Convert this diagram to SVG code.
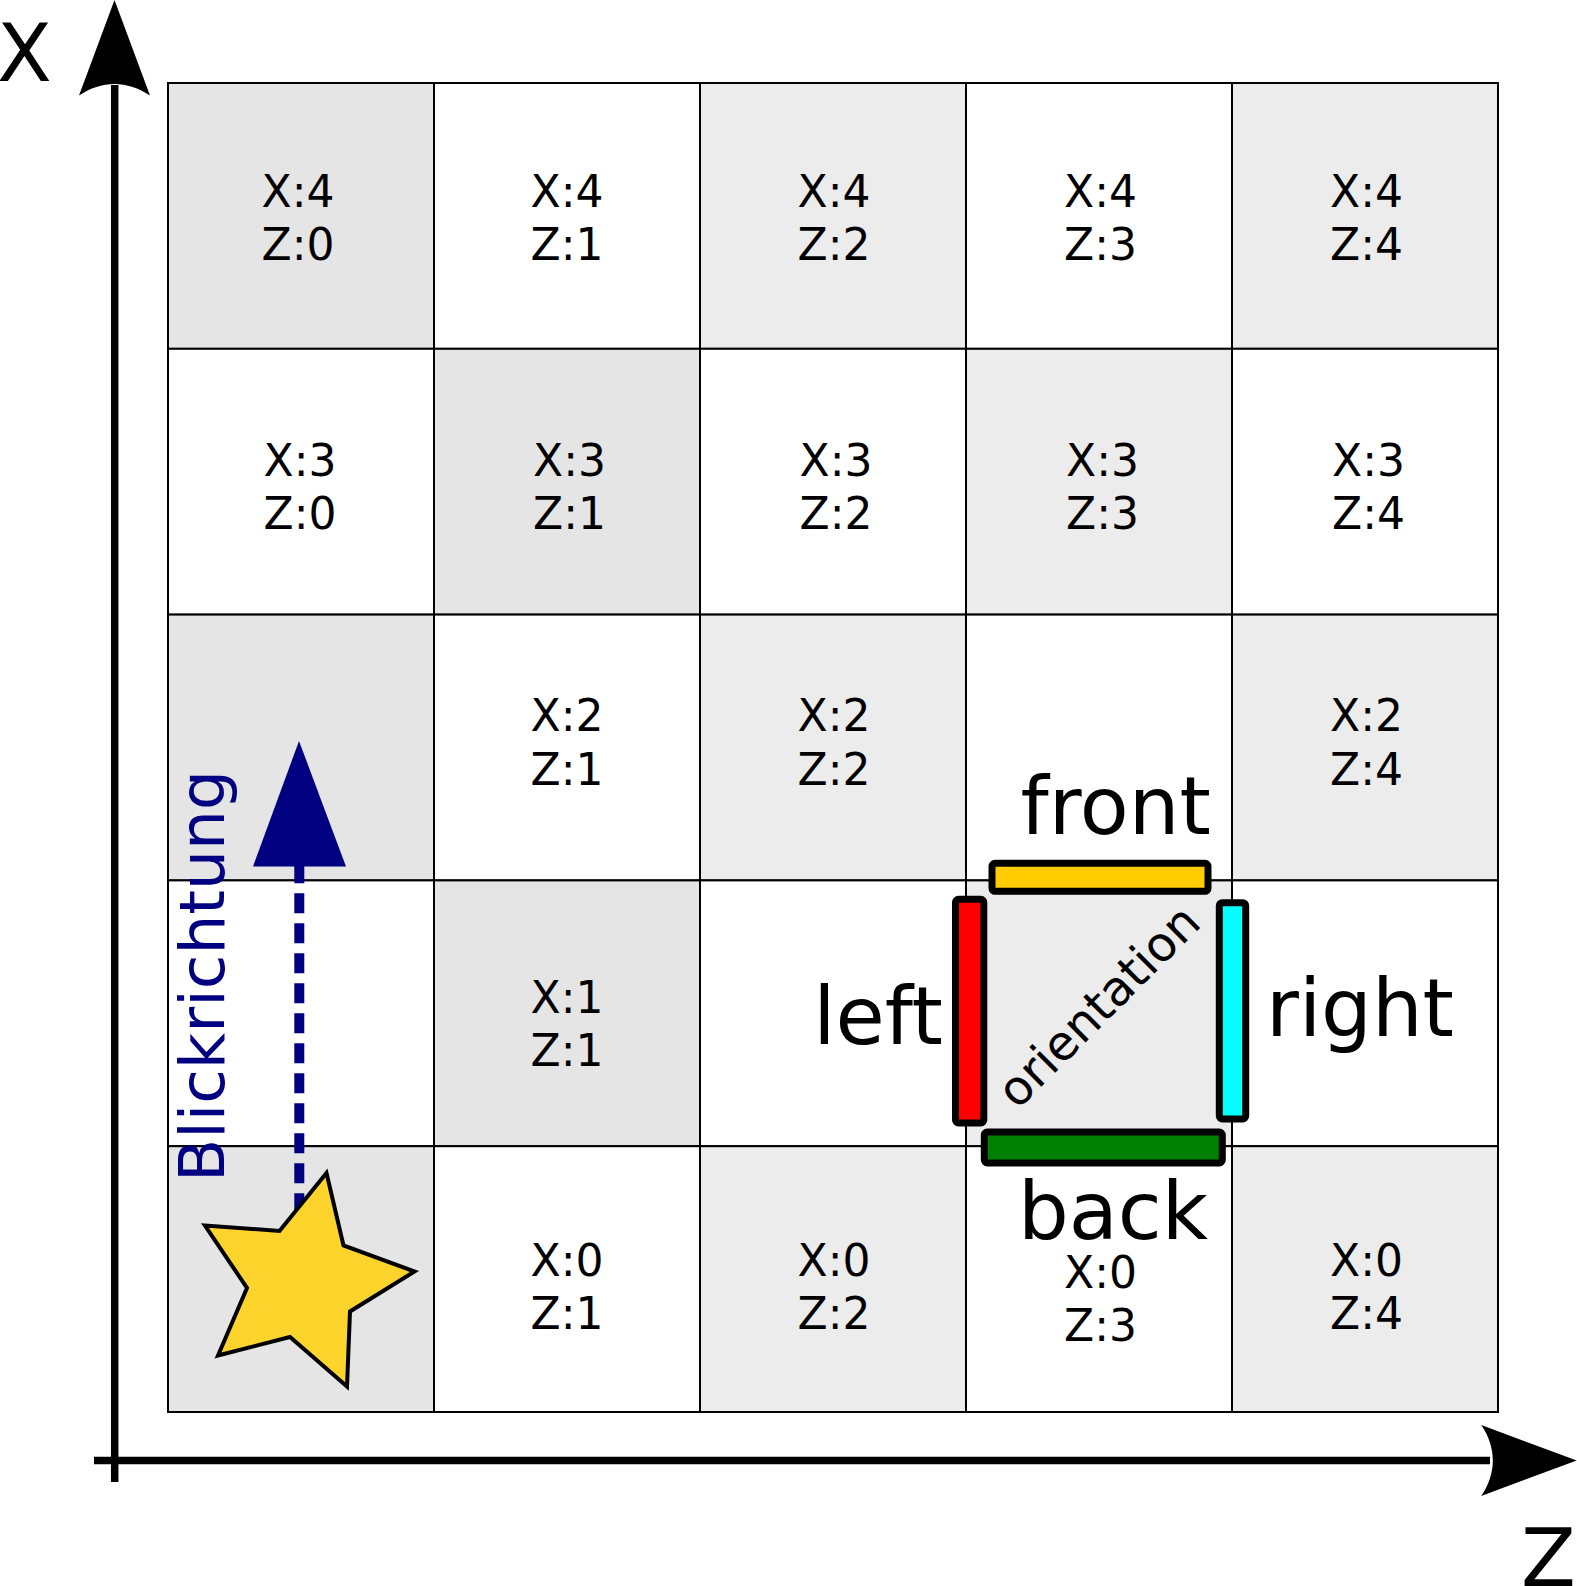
<svg xmlns="http://www.w3.org/2000/svg" xmlns:xlink="http://www.w3.org/1999/xlink" width="1577" height="1586" viewBox="0 0 1577 1586">
<style>
  .cw { fill: #ffffff; stroke: #000000; stroke-width: 2; }
  .cg1 { fill: #e5e5e5; stroke: #000000; stroke-width: 2; }
  .cg2 { fill: #ececec; stroke: #000000; stroke-width: 2; }
  .lbl { font-family: "DejaVu Sans", "Liberation Sans", sans-serif; font-size: 44px; fill: #000000; text-anchor: middle; }
  .big { font-family: "DejaVu Sans", "Liberation Sans", sans-serif; font-size: 80px; fill: #000000; }
  .bar { stroke: #000000; stroke-width: 7; }
  .axis { stroke: #000000; stroke-width: 7.5; fill: none; }
</style>
<defs>
  <path id="ah" d="M0,0 L-95.5,-35.5 C-80,-13 -80,13 -95.5,35.5 Z" fill="#000000"/>
</defs>
<rect x="0" y="0" width="1577" height="1586" fill="#ffffff"/>

<g id="grid">
  <g id="cell-x4-z0"><rect class="cg1" x="168" y="83" width="266" height="265.8"/><text class="lbl"><tspan x="298" y="206.5">X:4</tspan><tspan x="298" y="260">Z:0</tspan></text></g>
  <g id="cell-x4-z1"><rect class="cw" x="434" y="83" width="266" height="265.8"/><text class="lbl"><tspan x="567" y="206.5">X:4</tspan><tspan x="567" y="260">Z:1</tspan></text></g>
  <g id="cell-x4-z2"><rect class="cg2" x="700" y="83" width="266" height="265.8"/><text class="lbl"><tspan x="834" y="206.5">X:4</tspan><tspan x="834" y="260">Z:2</tspan></text></g>
  <g id="cell-x4-z3"><rect class="cw" x="966" y="83" width="266" height="265.8"/><text class="lbl"><tspan x="1100.5" y="206.5">X:4</tspan><tspan x="1100.5" y="260">Z:3</tspan></text></g>
  <g id="cell-x4-z4"><rect class="cg2" x="1232" y="83" width="266" height="265.8"/><text class="lbl"><tspan x="1366.5" y="206.5">X:4</tspan><tspan x="1366.5" y="260">Z:4</tspan></text></g>

  <g id="cell-x3-z0"><rect class="cw" x="168" y="348.8" width="266" height="265.8"/><text class="lbl"><tspan x="300" y="476">X:3</tspan><tspan x="300" y="529">Z:0</tspan></text></g>
  <g id="cell-x3-z1"><rect class="cg1" x="434" y="348.8" width="266" height="265.8"/><text class="lbl"><tspan x="569.5" y="476">X:3</tspan><tspan x="569.5" y="529">Z:1</tspan></text></g>
  <g id="cell-x3-z2"><rect class="cw" x="700" y="348.8" width="266" height="265.8"/><text class="lbl"><tspan x="836" y="476">X:3</tspan><tspan x="836" y="529">Z:2</tspan></text></g>
  <g id="cell-x3-z3"><rect class="cg2" x="966" y="348.8" width="266" height="265.8"/><text class="lbl"><tspan x="1102.5" y="476">X:3</tspan><tspan x="1102.5" y="529">Z:3</tspan></text></g>
  <g id="cell-x3-z4"><rect class="cw" x="1232" y="348.8" width="266" height="265.8"/><text class="lbl"><tspan x="1368.5" y="476">X:3</tspan><tspan x="1368.5" y="529">Z:4</tspan></text></g>

  <g id="cell-x2-z0"><rect class="cg1" x="168" y="614.6" width="266" height="265.8"/></g>
  <g id="cell-x2-z1"><rect class="cw" x="434" y="614.6" width="266" height="265.8"/><text class="lbl"><tspan x="567" y="731">X:2</tspan><tspan x="567" y="784.5">Z:1</tspan></text></g>
  <g id="cell-x2-z2"><rect class="cg2" x="700" y="614.6" width="266" height="265.8"/><text class="lbl"><tspan x="834" y="731">X:2</tspan><tspan x="834" y="784.5">Z:2</tspan></text></g>
  <g id="cell-x2-z3"><rect class="cw" x="966" y="614.6" width="266" height="265.8"/></g>
  <g id="cell-x2-z4"><rect class="cg2" x="1232" y="614.6" width="266" height="265.8"/><text class="lbl"><tspan x="1366.5" y="731">X:2</tspan><tspan x="1366.5" y="784.5">Z:4</tspan></text></g>

  <g id="cell-x1-z0"><rect class="cw" x="168" y="880.4" width="266" height="265.8"/></g>
  <g id="cell-x1-z1"><rect class="cg1" x="434" y="880.4" width="266" height="265.8"/><text class="lbl"><tspan x="567" y="1012.5">X:1</tspan><tspan x="567" y="1066">Z:1</tspan></text></g>
  <g id="cell-x1-z2"><rect class="cw" x="700" y="880.4" width="266" height="265.8"/></g>
  <g id="cell-x1-z3"><rect class="cg2" x="966" y="880.4" width="266" height="265.8"/></g>
  <g id="cell-x1-z4"><rect class="cw" x="1232" y="880.4" width="266" height="265.8"/></g>

  <g id="cell-x0-z0"><rect class="cg1" x="168" y="1146.2" width="266" height="265.8"/></g>
  <g id="cell-x0-z1"><rect class="cw" x="434" y="1146.2" width="266" height="265.8"/><text class="lbl"><tspan x="567" y="1275.5">X:0</tspan><tspan x="567" y="1328.5">Z:1</tspan></text></g>
  <g id="cell-x0-z2"><rect class="cg2" x="700" y="1146.2" width="266" height="265.8"/><text class="lbl"><tspan x="834" y="1275.5">X:0</tspan><tspan x="834" y="1328.5">Z:2</tspan></text></g>
  <g id="cell-x0-z3"><rect class="cw" x="966" y="1146.2" width="266" height="265.8"/><text class="lbl"><tspan x="1100.5" y="1287.5">X:0</tspan><tspan x="1100.5" y="1340.5">Z:3</tspan></text></g>
  <g id="cell-x0-z4"><rect class="cg2" x="1232" y="1146.2" width="266" height="265.8"/><text class="lbl"><tspan x="1366.5" y="1275.5">X:0</tspan><tspan x="1366.5" y="1328.5">Z:4</tspan></text></g>
</g>

<g id="connectors">
  <g id="axis-x">
    <line class="axis" x1="114.7" y1="85" x2="114.7" y2="1482"/>
    <use xlink:href="#ah" href="#ah" transform="translate(114.5,0) rotate(-90)"/>
  </g>
  <g id="axis-z">
    <line class="axis" x1="94" y1="1460.5" x2="1490" y2="1460.5"/>
    <use xlink:href="#ah" href="#ah" transform="translate(1576.7,1460.5)"/>
  </g>
  <g id="blickrichtung-arrow">
    <line x1="299.3" y1="863.3" x2="299.3" y2="1213.3" stroke="#000080" stroke-width="10" stroke-dasharray="20,10"/>
    <polygon points="299,741 253,866.5 346,866.5" fill="#000080"/>
  </g>
</g>

<g id="star">
  <polygon points="326.5,1173 343.5,1245.5 414.5,1271.5 350,1311.5 347,1386.5 290,1337 218,1355.5 247,1288 205,1225.5 279.5,1231" fill="#fcd42c" stroke="#000000" stroke-width="4" stroke-linejoin="miter"/>
</g>

<g id="orientation">
  <g id="bar-front"><rect class="bar" x="992" y="863.3" width="216" height="28" rx="3" fill="#ffcc00"/></g>
  <g id="bar-left"><rect class="bar" x="955.5" y="899.3" width="28.3" height="223.7" rx="3" fill="#ff0000"/></g>
  <g id="bar-right"><rect class="bar" x="1219.3" y="902.7" width="26.4" height="216.3" rx="3" fill="#00ffff"/></g>
  <g id="bar-back"><rect class="bar" x="984.3" y="1132" width="238" height="31" rx="3" fill="#008000"/></g>
  <text x="1017.4" y="1110.6" transform="rotate(-45 1017.4 1110.6)" font-family="DejaVu Sans, Liberation Sans, sans-serif" font-size="48" fill="#000000">orientation</text>
</g>

<g id="labels">
  <text class="big" x="-3" y="81">X</text>
  <text class="big" x="1521" y="1585.5">Z</text>
  <text class="big" x="1020.5" y="833.6">front</text>
  <text class="big" x="813.3" y="1043.6">left</text>
  <text class="big" x="1266" y="1036.4">right</text>
  <text class="big" x="1018" y="1239">back</text>
  <text x="224" y="1182" transform="rotate(-90 224 1182)" font-family="DejaVu Sans, Liberation Sans, sans-serif" font-size="63" fill="#000080">Blickrichtung</text>
</g>
</svg>
